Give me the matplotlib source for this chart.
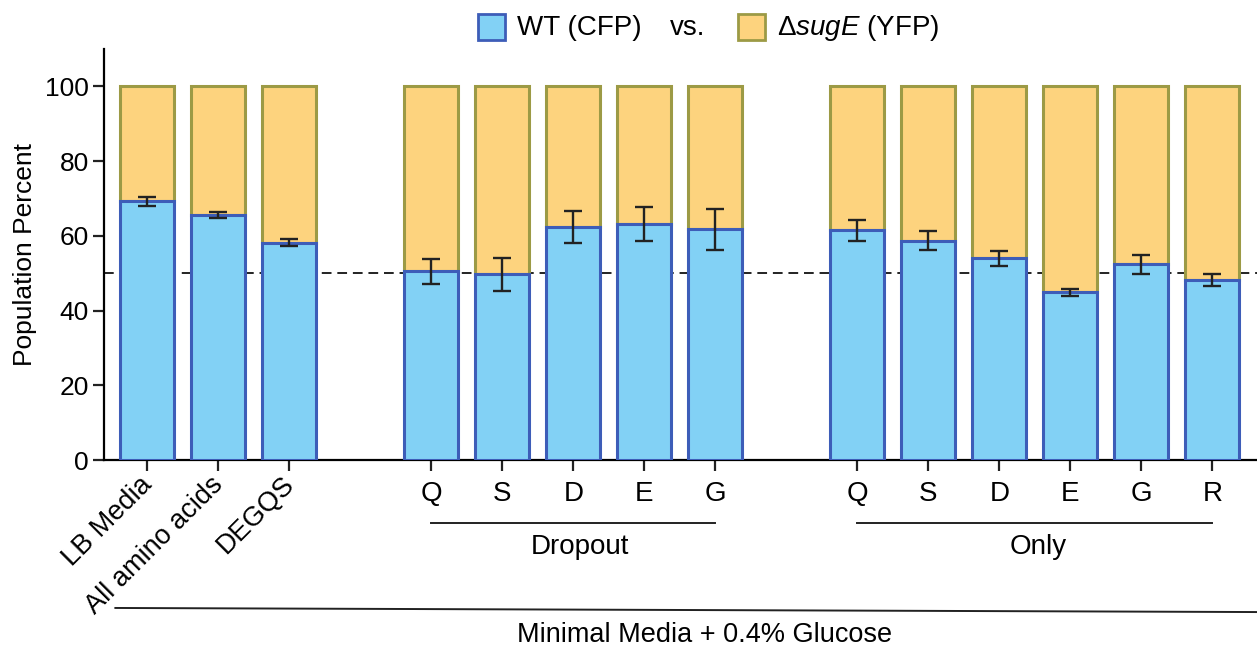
import numpy as np
import matplotlib
matplotlib.use("Agg")
import matplotlib.pyplot as plt
from matplotlib.patches import Rectangle
import matplotlib.transforms as mtransforms

plt.rcParams['font.family'] = ['Liberation Sans', 'DejaVu Sans']
plt.rcParams['font.size'] = 18
plt.rcParams['mathtext.fontset'] = 'custom'
plt.rcParams['mathtext.rm'] = 'Liberation Sans'
plt.rcParams['mathtext.it'] = 'Liberation Sans:italic'

# data
labels = ["LB Media", "All amino acids", "DEGQS",
          "Q", "S", "D", "E", "G",
          "Q", "S", "D", "E", "G", "R"]
positions = [0, 1, 2, 4, 5, 6, 7, 8, 10, 11, 12, 13, 14, 15]
wt = [69.2, 65.5, 58.2,
      50.5, 49.7, 62.4, 63.2, 61.7,
      61.5, 58.7, 54.0, 44.9, 52.4, 48.3]
wt_err = [1.2, 0.8, 0.9,
          3.3, 4.4, 4.2, 4.5, 5.5,
          2.8, 2.5, 2.0, 1.0, 2.5, 1.6]
rotated = [True, True, True] + [False] * 11

blue_fill, blue_edge = "#82D1F5", "#3D5DB8"
yel_fill, yel_edge = "#FDD37E", "#9C9A45"

fig = plt.figure(figsize=(12.57, 6.47), dpi=100)
ax = fig.add_axes([104 / 1257, 1 - 460 / 647, 1 - 104 / 1257, 411 / 647])

x = np.array(positions, dtype=float)
wt = np.array(wt)
bw = 0.76
ax.bar(x, 100 - wt, bottom=wt, width=bw, color=yel_fill, edgecolor=yel_edge,
       linewidth=2.2, zorder=2)
ax.bar(x, wt, width=bw, color=blue_fill, edgecolor=blue_edge, linewidth=2.2, zorder=3)
ax.errorbar(x, wt, yerr=wt_err, fmt="none", ecolor="#222222", elinewidth=1.7,
            capsize=6.5, capthick=1.7, zorder=4)
ax.axhline(50, color="#222222", ls=(0, (5, 3)), lw=1.4, zorder=1)

ax.set_xlim(-0.61, 15.63)
ax.set_ylim(0, 110)
ax.set_yticks([0, 20, 40, 60, 80, 100])
ax.set_xticks(x)
ax.set_xticklabels([])
ax.spines["top"].set_visible(False)
ax.spines["right"].set_visible(False)
ax.spines["left"].set_linewidth(1.6)
ax.spines["bottom"].set_linewidth(1.6)
ax.tick_params(axis="both", direction="out", length=8, width=1.6, color="#222222")
ax.tick_params(axis="y", labelsize=19, pad=3)
ax.set_ylabel("Population Percent", fontsize=19, labelpad=6)

trans = mtransforms.blended_transform_factory(ax.transData, ax.transAxes)
for xi, lab, rot in zip(x, labels, rotated):
    if rot:
        ax.text(xi - 0.12, -0.028, lab, rotation=45, ha="right", va="top",
                rotation_mode="anchor", transform=trans, fontsize=19.5)
    else:
        ax.text(xi, -0.05, lab, ha="center", va="top", transform=trans, fontsize=20)

# group brackets
ax.plot([4, 8], [-0.153, -0.153], color="#222222", lw=1.4, transform=trans, clip_on=False)
ax.text(6.1, -0.18, "Dropout", ha="center", va="top", transform=trans, fontsize=20)
ax.plot([10, 15], [-0.153, -0.153], color="#222222", lw=1.4, transform=trans, clip_on=False)
ax.text(12.55, -0.18, "Only", ha="center", va="top", transform=trans, fontsize=20)
ax.plot([-0.45, 15.7], [-0.36, -0.37], color="#222222", lw=1.4, transform=trans, clip_on=False)
ax.text(7.85, -0.395, "Minimal Media + 0.4% Glucose", ha="center", va="top",
        transform=trans, fontsize=19.5)

# header legend
fig.patches.append(Rectangle((478 / 1257, 1 - 40 / 647), 27 / 1257, 26 / 647,
                             transform=fig.transFigure, facecolor=blue_fill,
                             edgecolor=blue_edge, linewidth=2))
fig.text(517 / 1257, 1 - 28 / 647, "WT (CFP)", ha="left", va="center", fontsize=20)
fig.text(670 / 1257, 1 - 28 / 647, "vs.", ha="left", va="center", fontsize=20)
fig.patches.append(Rectangle((738 / 1257, 1 - 40 / 647), 27 / 1257, 26 / 647,
                             transform=fig.transFigure, facecolor=yel_fill,
                             edgecolor=yel_edge, linewidth=2))
fig.text(777 / 1257, 1 - 28 / 647, r"$\Delta\mathit{sugE}$ (YFP)", ha="left",
         va="center", fontsize=20)

fig.savefig("out.png", dpi=100)
